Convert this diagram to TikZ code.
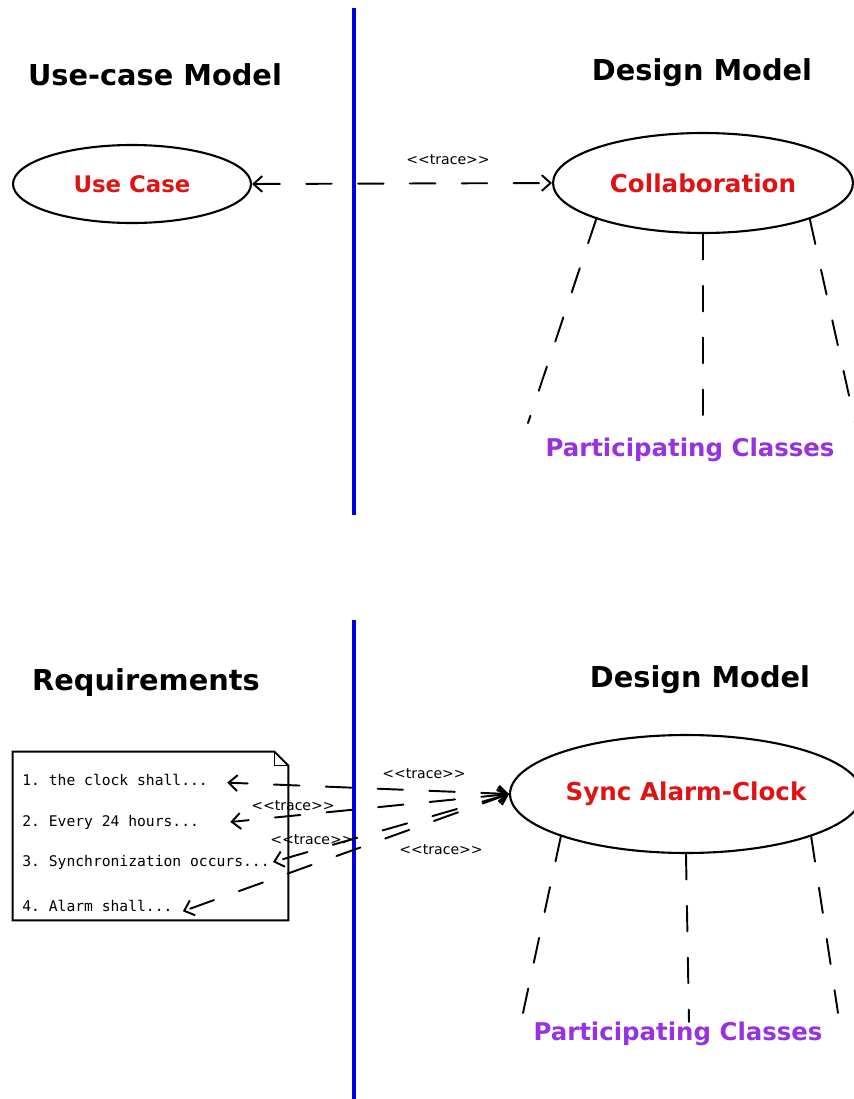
\documentclass[tikz,border=0pt]{standalone}
\usepackage{fontspec}
\setmainfont{DejaVu Sans}
\setmonofont{DejaVu Sans Mono}
\newfontfamily\stereofont{DejaVu Sans}[Ligatures=TeXOff]
\usetikzlibrary{shapes.geometric,arrows.meta}

\definecolor{ucred}{RGB}{222,20,20}
\definecolor{classpurple}{RGB}{150,50,225}
\definecolor{laneblue}{RGB}{0,0,230}

\newcommand{\stereo}[1]{{\stereofont <\kern0pt<#1>\kern0pt>}}

\begin{document}
\begin{tikzpicture}[x=0.02cm,y=-0.02cm,line cap=round,
    >={Straight Barb[length=5pt,width=9pt]},
    heading/.style={font=\bfseries\fontsize{16.4}{19}\selectfont},
    usecase/.style={draw,ellipse,line width=1.2pt,inner sep=0pt,text=ucred,
      font=\bfseries\fontsize{14}{16}\selectfont},
    classes/.style={text=classpurple,font=\bfseries\fontsize{13.9}{16}\selectfont},
    tracearrow/.style={<->,line width=1.1pt,dash pattern=on 14.5pt off 15pt},
    legline/.style={line width=1.1pt,dash pattern=on 14.5pt off 15pt},
    tracelabel/.style={font=\fontsize{8}{9}\selectfont,inner sep=1pt},
    reqline/.style={anchor=west,inner sep=0pt,font=\ttfamily\fontsize{8.35}{10}\selectfont},
    lane/.style={draw=laneblue,line width=2.4pt,line cap=butt}]

  % Tunables
  \def\fold{0.28cm}   % dog-ear of the requirements note
  \useasboundingbox (0,0) rectangle (853,1099);

  % Helper macro for the three dashed legs under a collaboration:
  % (ellipse, left end, middle end, right end)
  \newcommand{\legfan}[4]{%
    \draw[legline] (#1.south west) -- (#2);
    \draw[legline] (#1.south) -- (#3);
    \draw[legline] (#1.south east) -- (#4);
  }

  % ---- upper half: use case traced to a collaboration
  \draw[lane] (354,8) -- (354,515);
  \node[heading] (ucmodel) at (155,75) {Use-case Model};
  \node[heading] (dmtop) at (702,73) {Design Model};

  \node[usecase,minimum width=4.76cm,minimum height=1.56cm,
    font=\bfseries\fontsize{13}{15}\selectfont] (usecase) at (132,184) {Use Case};
  \node[usecase,minimum width=6cm,minimum height=2cm] (collab) at (703,183) {Collaboration};
  \draw[tracearrow] (usecase.east) -- (collab.west);
  \node[tracelabel] (trtop) at (448,160) {\stereo{trace}};

  \coordinate (cl1) at (528,423);
  \coordinate (cl2) at (703,420);
  \coordinate (cl3) at (856,427);
  \legfan{collab}{cl1}{cl2}{cl3}
  \node[classes] (pctop) at (690,450) {Participating Classes};

  % ---- lower half: requirements traced to a collaboration
  \draw[lane] (354,620) -- (354,1099);
  \node[heading] (reqhead) at (146,683) {Requirements};
  \node[heading] (dmbottom) at (700,680) {Design Model};

  % requirements note
  \node[minimum width=5.5cm,minimum height=3.36cm,inner sep=0pt] (note) at (150.5,836) {};
  \draw[line width=1.1pt,line join=miter] (note.north west) -- ([xshift=-\fold]note.north east)
    -- ([yshift=-\fold]note.north east) -- (note.south east) -- (note.south west) -- cycle;
  \draw[line width=0.4pt] ([xshift=-\fold]note.north east) |- ([yshift=-\fold]note.north east);
  \node[reqline] (req1) at (22,780) {1. the clock shall...};
  \node[reqline] (req2) at (22,822) {2. Every 24 hours...};
  \node[reqline] (req3) at (22,862) {3. Synchronization occurs...};
  \node[reqline] (req4) at (22,906) {4. Alarm shall...};

  \node[usecase,minimum width=7.04cm,minimum height=2.36cm] (sync) at (686,794) {Sync Alarm-Clock};

  \draw[tracearrow] (sync.west) -- ([xshift=10.8pt,yshift=-1.5pt]req1.east);
  \draw[tracearrow] (sync.west) -- ([xshift=17.6pt]req2.east);
  \draw[tracearrow] (sync.west) -- ([xshift=1.7pt]req3.east);
  \draw[tracearrow] (sync.west) -- ([xshift=5.7pt,yshift=-3pt]req4.east);
  \node[tracelabel] (tr1) at (424,774) {\stereo{trace}};
  \node[tracelabel] (tr2) at (293,806) {\stereo{trace}};
  \node[tracelabel] (tr3) at (312,840) {\stereo{trace}};
  \node[tracelabel] (tr4) at (441,850) {\stereo{trace}};

  \coordinate (sl1) at (523,1013);
  \coordinate (sl2) at (689,1022);
  \coordinate (sl3) at (838,1013);
  \legfan{sync}{sl1}{sl2}{sl3}
  \node[classes] (pcbottom) at (678,1034) {Participating Classes};
\end{tikzpicture}
\end{document}
